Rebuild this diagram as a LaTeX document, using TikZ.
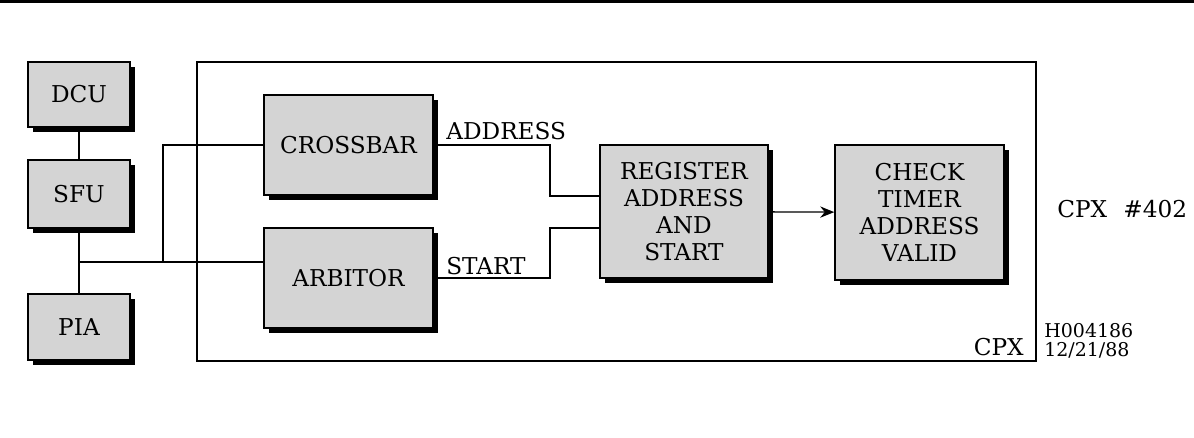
\documentclass[tikz,border=0pt]{standalone}
\usepackage{fontspec}
\setmainfont{DejaVu Serif}
\usepackage{tikz}
\usetikzlibrary{arrows.meta, shadows, calc}

\tikzset{
  bloco/.style={draw, line width=1pt, fill=black!17, align=center, inner sep=0pt,
    font=\fontsize{16.5}{19.2}\selectfont,
    drop shadow={shadow xshift=0.13cm, shadow yshift=-0.13cm, fill=black, opacity=1}},
  rotulo/.style={font=\fontsize{16.5}{19.2}\selectfont, inner sep=0pt},
  fio/.style={line width=0.9pt},
}

\begin{document}
\begin{tikzpicture}[x=0.025cm, y=-0.025cm]
  \useasboundingbox (0,0) rectangle (1194,438);
  % linha do topo
  \draw[line width=2pt] (0,1.5) -- (1194,1.5);
  % unidades externas
  \node[bloco, minimum width=2.55cm, minimum height=1.625cm] (dcu) at (79,94.5) {DCU};
  \node[bloco, minimum width=2.55cm, minimum height=1.7cm] (sfu) at (79,194) {SFU};
  \node[bloco, minimum width=2.55cm, minimum height=1.65cm] (pia) at (79,327) {PIA};
  % moldura do CPX
  \draw[fio] (197,62) rectangle (1036,361);
  \node[rotulo, anchor=base east] (cpx) at (1024,355) {CPX};
  % blocos internos
  \node[bloco, minimum width=4.225cm, minimum height=2.5cm] (crossbar) at (348.5,145) {CROSSBAR};
  \node[bloco, minimum width=4.225cm, minimum height=2.5cm] (arbitor) at (348.5,278) {ARBITOR};
  \node[bloco, minimum width=4.2cm, minimum height=3.325cm] (register) at (684,211.5)
    {REGISTER\\ADDRESS\\AND\\START};
  \node[bloco, minimum width=4.225cm, minimum height=3.375cm] (check) at (919.5,212.5)
    {CHECK\\TIMER\\ADDRESS\\VALID};
  % barramento da esquerda
  \coordinate (juncao) at (79,262);
  \coordinate (ramo) at (163,262);
  \draw[fio] (dcu) -- (sfu);
  \draw[fio] (sfu) -- (pia);
  \draw[fio] (juncao) -- (juncao -| arbitor.west);
  \draw[fio] (ramo) |- (crossbar.west);
  % sinais para o registrador
  \coordinate (dobraA) at (550,196);
  \coordinate (dobraS) at (550,228);
  \draw[fio] (crossbar.east) -| (dobraA) -- (dobraA -| register.west);
  \draw[fio] (arbitor.east) -| (dobraS) -- (dobraS -| register.west);
  \node[rotulo, anchor=base west] (address) at (446,140) {ADDRESS};
  \node[rotulo, anchor=base west] (start) at (446,275) {START};
  \draw[fio, -{Stealth[length=10pt, width=8pt]}] (register) -- (check);
  % legendas
  \node[rotulo, anchor=west] (cpxnum) at (1057,209) {CPX\hspace{0.7em}\#402};
  \node[font=\fontsize{13.5}{13.6}\selectfont, align=left, anchor=west, inner sep=0pt]
    (carimbo) at (1044,341) {H004186\\12/21/88};
\end{tikzpicture}
\end{document}
